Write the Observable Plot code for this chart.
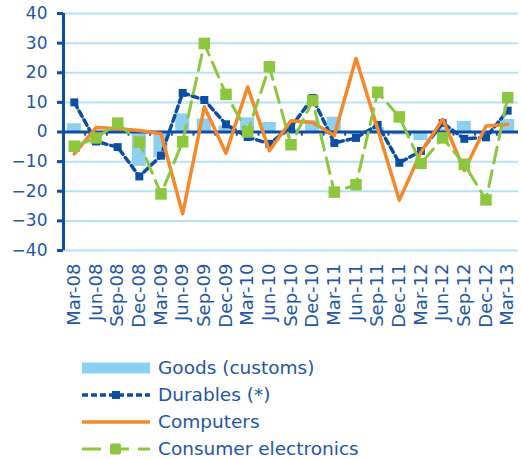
<!DOCTYPE html>
<html><head><meta charset="utf-8">
<script src="https://cdn.jsdelivr.net/npm/d3@7"></script>
<script src="https://cdn.jsdelivr.net/npm/@observablehq/plot@0.6"></script>
<style>
body{margin:0;background:#fff;font-family:"DejaVu Sans",sans-serif;}
#legend{margin-left:82px;margin-top:14px;color:#1f56a5;font-size:18.5px}
.row{display:flex;align-items:center;height:27px}
.row svg{margin-right:8px;flex:none}
</style></head><body>
<div id="chart"></div>
<div id="legend"></div>
<script>
const labels = ["Mar-08","Jun-08","Sep-08","Dec-08","Mar-09","Jun-09","Sep-09","Dec-09","Mar-10","Jun-10","Sep-10","Dec-10","Mar-11","Jun-11","Sep-11","Dec-11","Mar-12","Jun-12","Sep-12","Dec-12","Mar-13"];
const goods = [2.8, -1.5, 1, -11.6, -8.6, 6.1, 4.4, 2, 4.8, 3.2, 1, 3.8, 5, -1, 1.5, -1, -2.9, 1, 3.6, -1, 4.2];
const durables = [10, -3.2, -5.1, -15, -8, 13.2, 10.8, 2.6, -1.7, -4, 1.7, 11.5, -3.7, -2, 2.4, -10.4, -6.4, 3, -2.3, -1.8, 7.2];
const computers = [-7.4, 1.5, 1.1, 0.5, -0.6, -27.6, 8.5, -7.2, 15.2, -6.3, 3.8, 3.2, -1.2, 24.8, 1, -23, -6.8, 4.3, -13, 2, 2.5];
const electronics = [-4.8, -2, 3, -3.4, -20.9, -3.3, 29.9, 12.7, 0, 22, -4.3, 10.6, -20.3, -17.8, 13.4, 5.1, -10.6, -2, -10.9, -22.9, 11.6];
const yTicks = [-40, -30, -20, -10, 0, 10, 20, 30, 40];
const seriesNames = ["Goods (customs)", "Durables (*)", "Computers", "Consumer electronics"];

const DARK = "#0d4ea3", TEXT = "#1f56a5", LIGHT = "#8ed0f0", ORANGE = "#f7882a", GREEN = "#8dc63f", GRID = "#b7e2f6";

const idx = labels.map((d, i) => i);
const rows = labels.map((q, i) => ({i, q, goods: goods[i], durables: durables[i], computers: computers[i], electronics: electronics[i]}));
const bounds = idx.slice(1).map(i => i - 0.5);

const chart = Plot.plot({
  width: 522, height: 340,
  marginTop: 13, marginBottom: 90, marginLeft: 63, marginRight: 4,
  style: {fontFamily: "DejaVu Sans", color: TEXT, background: "white"},
  x: {type: "linear", domain: [-0.5, labels.length - 0.5]},
  y: {domain: [-40, 40]},
  marks: [
    Plot.gridY(yTicks, {stroke: GRID, strokeOpacity: 1, strokeWidth: 2}),
    Plot.rectY(rows, {x1: d => d.i - 0.5, x2: d => d.i + 0.5, y1: 0, y2: "goods", fill: LIGHT, insetLeft: 3.8, insetRight: 3.8}),
    Plot.ruleY([0], {stroke: DARK, strokeWidth: 3}),
    Plot.ruleX(bounds, {y1: 0, y2: -1.4, stroke: DARK, strokeWidth: 2}),
    Plot.ruleX([-0.5], {stroke: DARK, strokeWidth: 3}),
    Plot.axisY(yTicks, {tickSize: 6, tickPadding: 10, strokeWidth: 3, stroke: DARK, fontSize: 17, label: null}),
    Plot.axisX(idx, {tickFormat: i => labels[i], tickRotate: -90, tickSize: 0, tickPadding: 13, fontSize: 18, label: null}),
    Plot.line(rows, {x: "i", y: "durables", stroke: DARK, strokeWidth: 3.5, strokeDasharray: "6,4"}),
    Plot.dot(rows, {x: "i", y: "durables", symbol: "square", fill: DARK, r: 4.5}),
    Plot.line(rows, {x: "i", y: "computers", stroke: ORANGE, strokeWidth: 3.5}),
    Plot.line(rows, {x: "i", y: "electronics", stroke: GREEN, strokeWidth: 3, strokeDasharray: "16,8"}),
    Plot.dot(rows, {x: "i", y: "electronics", symbol: "square", fill: GREEN, r: 6.5})
  ]
});
document.getElementById("chart").appendChild(chart);

const swatches = [
  `<svg width="68" height="14"><rect x="0" y="1.5" width="68" height="11" fill="${LIGHT}"/></svg>`,
  `<svg width="68" height="14"><line x1="0" y1="7" x2="68" y2="7" stroke="${DARK}" stroke-width="3.5" stroke-dasharray="6,3"/><rect x="30" y="3" width="8" height="8" fill="${DARK}"/></svg>`,
  `<svg width="68" height="14"><line x1="0" y1="7" x2="68" y2="7" stroke="${ORANGE}" stroke-width="3.5"/></svg>`,
  `<svg width="68" height="14"><line x1="0" y1="7" x2="68" y2="7" stroke="${GREEN}" stroke-width="3" stroke-dasharray="19,9"/><rect x="28" y="1.5" width="11" height="11" rx="2" fill="${GREEN}"/></svg>`
];
const legend = document.getElementById("legend");
seriesNames.forEach((name, k) => {
  const row = document.createElement("div");
  row.className = "row";
  row.innerHTML = swatches[k] + `<span>${name}</span>`;
  legend.appendChild(row);
});
</script>
</body></html>
